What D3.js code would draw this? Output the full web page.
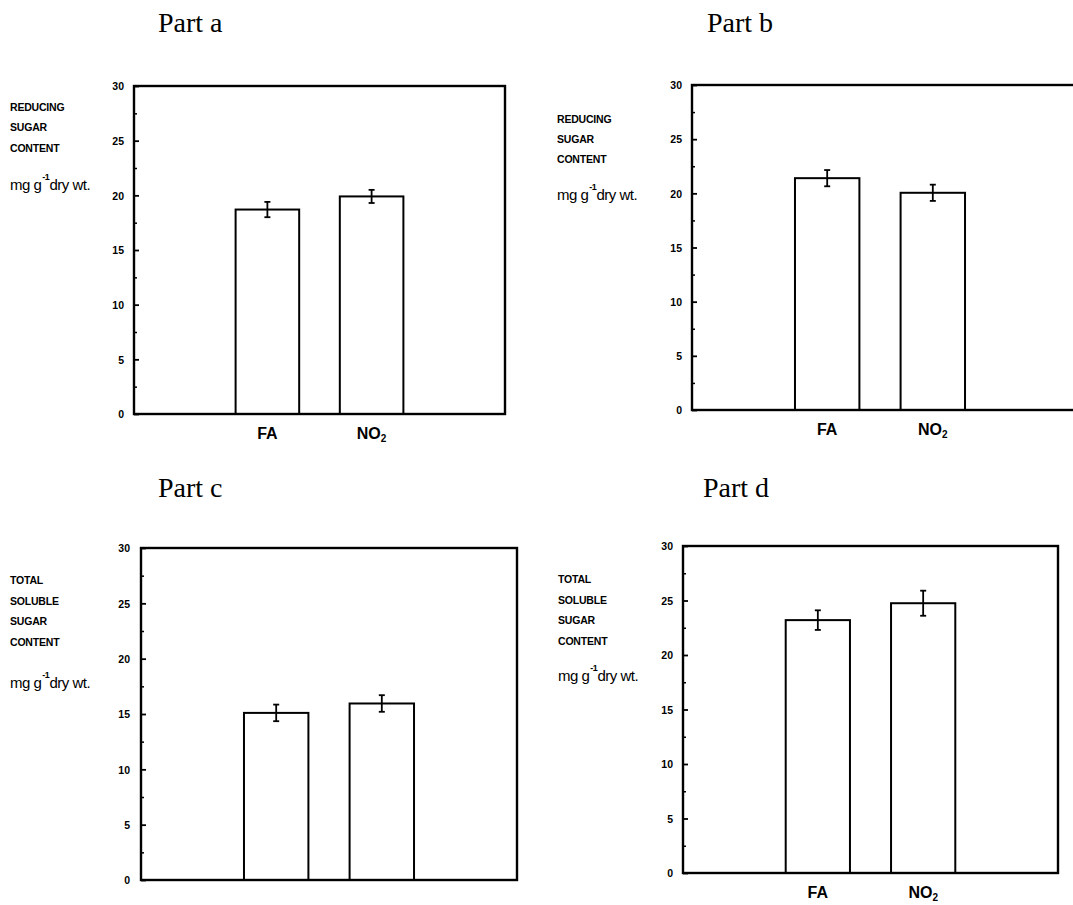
<!DOCTYPE html>
<html>
<head>
<meta charset="utf-8">
<script src="https://cdn.jsdelivr.net/npm/d3@7"></script>
<style>
  body { margin: 0; background: #fff; }
  svg { display: block; }
  .title { font-family: "Liberation Serif", "Times New Roman", serif; font-size: 28px; }
  .ylab { font-family: "Liberation Sans", Arial, sans-serif; font-weight: bold; font-size: 10.5px; letter-spacing: -0.2px; }
  .unit { font-family: "Liberation Sans", Arial, sans-serif; font-size: 15px; letter-spacing: -0.5px; }
  .tick text { font-family: "Liberation Sans", Arial, sans-serif; font-weight: bold; font-size: 10.5px; }
  .xlab { font-family: "Liberation Sans", Arial, sans-serif; font-weight: bold; font-size: 16px; }
</style>
</head>
<body>
<div id="chart"></div>
<script>
// data
var categories = ["FA", "NO2"];
var partTitles = ["Part a", "Part b", "Part c", "Part d"];
var valuesA = [18.7, 19.9];
var errorsA = [0.7, 0.6];
var valuesB = [21.4, 20.05];
var errorsB = [0.75, 0.75];
var valuesC = [15.1, 15.95];
var errorsC = [0.75, 0.75];
var valuesD = [23.2, 24.75];
var errorsD = [0.9, 1.15];
var yTicks = [0, 5, 10, 15, 20, 25, 30];
var reducingLabel = ["REDUCING", "SUGAR", "CONTENT"];
var totalLabel = ["TOTAL", "SOLUBLE", "SUGAR", "CONTENT"];

// layout per panel (frame box, x range for the two bars, label spots)
var panels = [
    { title: partTitles[0], values: valuesA, errors: errorsA, label: reducingLabel,
      box: { l: 134, t: 86, r: 505, b: 414 }, xr: [134, 505],
      titleX: 158, titleY: 32, labX: 10, labY: 111, labStep: 20.3, unitY: 190,
      tickRight: 124, xlabY: 439, showX: true },
    { title: partTitles[1], values: valuesB, errors: errorsB, label: reducingLabel,
      box: { l: 692, t: 85, r: 1085, b: 410 }, xr: [692, 1068],
      titleX: 707, titleY: 32, labX: 557, labY: 123, labStep: 20.2, unitY: 200,
      tickRight: 682, xlabY: 435, showX: true },
    { title: partTitles[2], values: valuesC, errors: errorsC, label: totalLabel,
      box: { l: 141, t: 548, r: 517, b: 880 }, xr: [141, 517],
      titleX: 158, titleY: 497, labX: 10, labY: 584, labStep: 20.6, unitY: 688,
      tickRight: 130, xlabY: 905, showX: false },
    { title: partTitles[3], values: valuesD, errors: errorsD, label: totalLabel,
      box: { l: 683, t: 546, r: 1058, b: 873 }, xr: [683, 1058],
      titleX: 703, titleY: 497, labX: 558, labY: 583, labStep: 20.5, unitY: 681,
      tickRight: 673, xlabY: 898, showX: true }
];

var svg = d3.select("#chart")
    .append("svg")
    .attr("width", 1073)
    .attr("height", 905);

panels.forEach(function (p) {
    var g = svg.append("g");

    var y = d3.scaleLinear().domain([0, 30]).range([p.box.b, p.box.t]);
    var x = d3.scalePoint().domain(categories).range(p.xr).padding(1.28);
    var barW = x.step() * 0.61;

    // title
    g.append("text").attr("class", "title")
        .attr("x", p.titleX).attr("y", p.titleY)
        .text(p.title);

    // y axis caption
    p.label.forEach(function (s, i) {
        g.append("text").attr("class", "ylab")
            .attr("x", p.labX).attr("y", p.labY + i * p.labStep)
            .text(s);
    });
    // unit, -1 raised between "g" and "dry"
    var unit = g.append("text").attr("class", "unit")
        .attr("x", p.labX).attr("y", p.unitY);
    unit.append("tspan").text("mg g");
    unit.append("tspan").attr("font-size", "9px").attr("font-weight", "bold")
        .attr("dx", 1).attr("dy", -10).text("-1");
    unit.append("tspan").attr("dx", 0).attr("dy", 10).text("dry wt.");

    // bars
    g.selectAll("rect.bar")
        .data(p.values)
        .enter()
        .append("rect")
        .attr("class", "bar")
        .attr("x", function (d, i) { return x(categories[i]) - barW / 2; })
        .attr("y", function (d) { return y(d); })
        .attr("width", barW)
        .attr("height", function (d) { return y(0) - y(d); })
        .attr("fill", "#fff")
        .attr("stroke", "#000")
        .attr("stroke-width", 2);

    // error bars
    p.values.forEach(function (v, i) {
        var cx = x(categories[i]);
        var e = p.errors[i];
        var eg = g.append("g").attr("stroke", "#000").attr("stroke-width", 1.8);
        eg.append("line").attr("x1", cx).attr("x2", cx).attr("y1", y(v + e)).attr("y2", y(v - e));
        eg.append("line").attr("x1", cx - 3).attr("x2", cx + 3).attr("y1", y(v + e)).attr("y2", y(v + e));
        eg.append("line").attr("x1", cx - 3).attr("x2", cx + 3).attr("y1", y(v - e)).attr("y2", y(v - e));
    });

    // frame
    g.append("rect")
        .attr("x", p.box.l).attr("y", p.box.t)
        .attr("width", p.box.r - p.box.l).attr("height", p.box.b - p.box.t)
        .attr("fill", "none").attr("stroke", "#000").attr("stroke-width", 2.4);

    // y axis: major ticks inward, labels to the left
    var yAxis = d3.axisRight(y).tickValues(yTicks).tickSize(5).tickFormat(d3.format("d"));
    var ax = g.append("g").attr("transform", "translate(" + p.box.l + ",0)").call(yAxis);
    ax.select(".domain").remove();
    ax.selectAll(".tick line").attr("stroke-width", 1.8);
    ax.selectAll(".tick text")
        .attr("x", p.tickRight - p.box.l)
        .attr("text-anchor", "end")
        .attr("dy", "0.35em");

    // minor ticks
    var minor = d3.axisRight(y).tickValues(d3.range(2.5, 30, 5)).tickSize(3).tickFormat("");
    var mx = g.append("g").attr("transform", "translate(" + p.box.l + ",0)").call(minor);
    mx.select(".domain").remove();
    mx.selectAll(".tick line").attr("stroke-width", 1.5);

    // category labels
    if (p.showX) {
        categories.forEach(function (c) {
            var t = g.append("text").attr("class", "xlab")
                .attr("x", x(c)).attr("y", p.xlabY)
                .attr("text-anchor", "middle");
            if (c === "NO2") {
                t.append("tspan").text("NO");
                t.append("tspan").attr("font-size", "10px").attr("dy", 3).text("2");
            } else {
                t.text(c);
            }
        });
    }
});
</script>
</body>
</html>
